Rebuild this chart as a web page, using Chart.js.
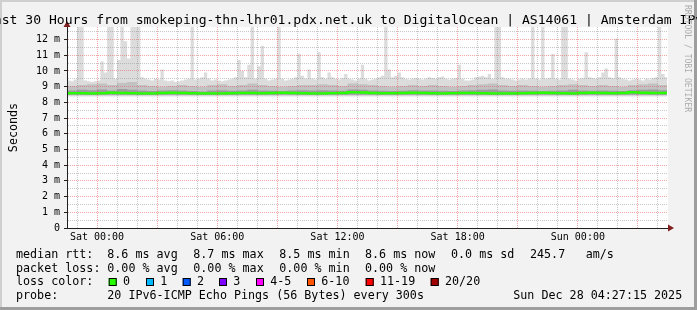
<!DOCTYPE html>
<html>
<head>
<meta charset="utf-8">
<script src="https://cdn.jsdelivr.net/npm/chart.js@4.4.1/dist/chart.umd.min.js"></script>
<style>
  html, body { margin: 0; padding: 0; background: #f2f2f2; }
  canvas { display: block; }
</style>
</head>
<body>
<canvas id="smoke" width="697" height="310"></canvas>
<script>
// time axis in hours, relative to Sat 00:00
const startHour = -1.5;   // Fri 22:30
const endHour = 28.5;     // Sun 04:30
const dataEnd = 28.45;    // Sun 04:27
const xTickHours = [0, 6, 12, 18, 24];
const xTickLabels = ['Sat 00:00', 'Sat 06:00', 'Sat 12:00', 'Sat 18:00', 'Sun 00:00'];

// outer smoke (highest ping), 10 minute steps, ms
const smokeTop = [
  9.4, 9.35, 9.45, 12.8, 12.8, 9.4, 9.35, 9.3, 9.35, 9.4, 10.6, 9.9,
  12.8, 12.8, 9.5, 10.7, 12.8, 11.9, 10.8, 12.8, 12.8, 12.8, 9.6, 9.5,
  9.45, 9.4, 9.5, 9.45, 10.1, 9.4, 9.35, 9.4, 9.3, 9.35, 9.4, 9.45,
  9.5, 12.8, 9.45, 9.5, 9.6, 9.9, 9.5, 9.4, 9.45, 9.4, 9.35, 9.4,
  9.45, 9.5, 9.6, 10.7, 10.0, 9.6, 10.4, 12.8, 9.5, 10.3, 11.6, 9.5,
  9.4, 9.45, 9.5, 12.8, 9.5, 9.4, 9.45, 9.5, 9.6, 11.1, 9.7, 9.5,
  10.1, 9.5, 9.45, 11.2, 9.6, 9.5, 9.9, 9.6, 9.5, 9.45, 9.55, 9.8,
  9.5, 9.45, 9.4, 9.5, 10.4, 9.5, 9.4, 9.45, 9.5, 9.6, 9.7, 12.8,
  10.1, 9.6, 9.7, 9.9, 9.6, 9.5, 9.45, 9.5, 9.55, 9.5, 9.45, 9.5,
  9.6, 9.55, 9.5, 9.6, 9.65, 9.5, 9.45, 9.5, 9.55, 10.4, 9.5, 9.4,
  9.4, 9.45, 9.6, 9.65, 9.7, 9.6, 9.8, 9.5, 12.8, 12.8, 9.6, 9.5,
  9.5, 9.45, 9.4, 9.45, 9.5, 9.45, 9.5, 12.8, 9.5, 9.45, 12.8, 9.5,
  9.55, 11.1, 9.5, 9.45, 12.8, 12.8, 9.5, 9.45, 9.4, 9.5, 9.55, 11.2,
  9.6, 9.55, 9.5, 9.6, 9.9, 10.15, 9.6, 9.55, 12.05, 9.6, 9.5, 9.45,
  9.4, 9.45, 9.5, 9.45, 9.4, 9.5, 9.45, 9.55, 9.6, 12.8, 9.8, 9.6
];

// inner smoke bands and median, 30 minute steps, ms
const smokeMid = [
  9.05, 9.1, 9.15, 9.2, 9.1, 9.25, 9.3, 9.1, 9.05, 9.0, 9.05, 9.1,
  9.05, 9.0, 9.1, 9.15, 9.05, 9.1, 9.2, 9.1, 9.05, 9.0, 9.05, 9.1,
  9.1, 9.15, 9.1, 9.05, 9.2, 9.15, 9.1, 9.05, 9.0, 9.05, 9.1, 9.05,
  9.1, 9.05, 9.0, 9.05, 9.1, 9.15, 9.2, 9.1, 9.05, 9.1, 9.05, 9.0,
  9.05, 9.1, 9.15, 9.1, 9.05, 9.1, 9.05, 9.0, 9.1, 9.15, 9.2, 9.1
];
const smokeCore = [
  8.75, 8.8, 8.78, 8.82, 8.75, 8.85, 8.8, 8.75, 8.72, 8.75, 8.78, 8.75,
  8.72, 8.7, 8.75, 8.78, 8.74, 8.76, 8.8, 8.75, 8.74, 8.72, 8.75, 8.78,
  8.76, 8.78, 8.75, 8.74, 8.82, 8.8, 8.76, 8.74, 8.72, 8.74, 8.78, 8.75,
  8.76, 8.74, 8.72, 8.75, 8.78, 8.8, 8.82, 8.76, 8.74, 8.76, 8.74, 8.72,
  8.74, 8.76, 8.8, 8.76, 8.74, 8.76, 8.74, 8.72, 8.78, 8.8, 8.82, 8.78
];
const medianRtt = [
  8.58, 8.58, 8.57, 8.58, 8.62, 8.6, 8.58, 8.56, 8.57, 8.6, 8.62, 8.6,
  8.58, 8.57, 8.56, 8.57, 8.58, 8.6, 8.59, 8.58, 8.6, 8.62, 8.6, 8.58,
  8.57, 8.56, 8.58, 8.6, 8.64, 8.63, 8.6, 8.58, 8.58, 8.6, 8.62, 8.6,
  8.58, 8.57, 8.58, 8.6, 8.6, 8.58, 8.57, 8.56, 8.57, 8.58, 8.6, 8.62,
  8.6, 8.58, 8.57, 8.6, 8.62, 8.6, 8.58, 8.6, 8.64, 8.62, 8.6, 8.6
];

const lossLabels = ['0', '1', '2', '3', '4-5', '6-10', '11-19', '20/20'];
const lossColors = ['#26ff00', '#00b8ff', '#0059ff', '#7e00ff', '#ff00ff', '#ff5500', '#ff0000', '#a10000'];

const titleText = 'Last 30 Hours from smokeping-thn-lhr01.pdx.net.uk to DigitalOcean | AS14061 | Amsterdam IPv6';
const rttStats = ['8.6 ms avg', '8.7 ms max', '8.5 ms min', '8.6 ms now', '0.0 ms sd', '245.7', 'am/s'];
const lossStats = ['0.00 % avg', '0.00 % max', '0.00 % min', '0.00 % now'];
const probeText = '20 IPv6-ICMP Echo Pings (56 Bytes) every 300s';
const stampText = 'Sun Dec 28 04:27:15 2025';

const MONO = '"DejaVu Sans Mono", "Liberation Mono", monospace';
const GRID_MAJOR = 'rgba(230,80,80,0.5)';
const GRID_MINOR = 'rgba(143,143,143,0.5)';

// stepped series: each value holds until the next one
function steps(values, stepHours) {
    const pts = values.map((v, i) => ({ x: startHour + i * stepHours, y: v }));
    pts.push({ x: dataEnd, y: values[values.length - 1] });
    return pts;
}

const framePlugin = {
    id: 'frame',
    beforeDraw(chart) {
        const c = chart.ctx;
        const a = chart.chartArea;
        c.save();
        c.fillStyle = '#f2f2f2';
        c.fillRect(0, 0, 697, 310);
        c.fillStyle = '#cfcfcf';
        c.fillRect(0, 0, 697, 2);
        c.fillRect(0, 0, 2, 310);
        c.fillStyle = '#9e9e9e';
        c.fillRect(0, 307, 697, 3);
        c.fillRect(694, 0, 3, 310);
        c.fillStyle = '#ffffff';
        c.fillRect(a.left, a.top, a.right - a.left, a.bottom - a.top);
        c.restore();
    },
    afterDraw(chart) {
        const c = chart.ctx;
        const a = chart.chartArea;
        c.save();

        // arrows at the axis ends
        c.fillStyle = '#801f1f';
        c.beginPath();
        c.moveTo(a.left - 3.5, a.top);
        c.lineTo(a.left + 3.5, a.top);
        c.lineTo(a.left, a.top - 6);
        c.closePath();
        c.fill();
        c.beginPath();
        c.moveTo(a.right, a.bottom - 3.5);
        c.lineTo(a.right, a.bottom + 3.5);
        c.lineTo(a.right + 6, a.bottom);
        c.closePath();
        c.fill();

        // title
        c.fillStyle = '#000';
        c.font = '13.1px ' + MONO;
        c.textAlign = 'center';
        c.textBaseline = 'alphabetic';
        c.fillText(titleText, 348.5, 23.5);

        // y axis title
        c.font = '11.7px ' + MONO;
        c.save();
        c.translate(14, (a.top + a.bottom) / 2);
        c.rotate(-Math.PI / 2);
        c.textBaseline = 'middle';
        c.fillText('Seconds', 0, 0);
        c.restore();

        // watermark
        c.save();
        c.fillStyle = '#acacac';
        c.font = '8.1px ' + MONO;
        c.translate(687, 58.5);
        c.rotate(Math.PI / 2);
        c.textBaseline = 'middle';
        c.fillText('RRDTOOL / TOBI OETIKER', 0, 0);
        c.restore();

        // legend
        c.textAlign = 'left';
        c.font = '11.7px ' + MONO;
        const rows = [258, 271.5, 285, 298.5];
        c.fillText('median rtt:', 16, rows[0]);
        const rttX = [107.3, 193.3, 279.3, 365, 451, 530, 585.7];
        rttStats.forEach((s, i) => c.fillText(s, rttX[i], rows[0]));
        c.fillText('packet loss:', 16, rows[1]);
        lossStats.forEach((s, i) => c.fillText(s, rttX[i], rows[1]));
        c.fillText('loss color:', 16, rows[2]);
        const boxX = [108.7, 146, 182.7, 219, 256, 307, 365.7, 430.7];
        lossLabels.forEach((s, i) => {
            c.fillStyle = lossColors[i];
            c.fillRect(boxX[i], 278, 8, 8);
            c.strokeStyle = '#000';
            c.lineWidth = 1;
            c.strokeRect(boxX[i] + 0.5, 278.5, 7, 7);
            c.fillStyle = '#000';
            c.fillText(s, boxX[i] + 14.3, rows[2]);
        });
        c.fillText('probe:', 16, rows[3]);
        c.fillText(probeText, 107.3, rows[3]);
        c.fillText(stampText, 513.3, rows[3]);
        c.restore();
    }
};

const ctx = document.getElementById('smoke').getContext('2d');
const noBorder = 'rgba(0,0,0,0)';
new Chart(ctx, {
    type: 'line',
    data: {
        datasets: [
            {
                label: 'median rtt',
                data: steps(medianRtt, 0.5),
                borderColor: lossColors[0],
                borderWidth: 2.5,
                stepped: true,
                pointRadius: 0,
                fill: false,
                order: 0
            },
            {
                label: 'smoke core',
                data: steps(smokeCore, 0.5),
                borderColor: noBorder,
                backgroundColor: '#9c9c9c',
                stepped: true,
                pointRadius: 0,
                fill: { value: 8.5 },
                order: 1
            },
            {
                label: 'smoke mid',
                data: steps(smokeMid, 0.5),
                borderColor: noBorder,
                backgroundColor: '#c2c2c2',
                stepped: true,
                pointRadius: 0,
                fill: { value: 8.45 },
                order: 2
            },
            {
                label: 'smoke',
                data: steps(smokeTop, 1 / 6),
                borderColor: noBorder,
                backgroundColor: '#dcdcdc',
                stepped: true,
                pointRadius: 0,
                fill: { value: 8.38 },
                order: 3
            }
        ]
    },
    options: {
        responsive: false,
        animation: false,
        events: [],
        layout: { padding: { left: 0, top: 27, right: 29, bottom: 62 } },
        plugins: { legend: { display: false }, tooltip: { enabled: false } },
        scales: {
            x: {
                type: 'linear',
                min: startHour,
                max: endHour,
                afterBuildTicks: (s) => {
                    const t = [];
                    for (let h = Math.ceil(startHour); h <= Math.floor(endHour); h++) t.push({ value: h });
                    s.ticks = t;
                },
                afterFit: (s) => { s.height = 20; },
                ticks: {
                    autoSkip: false,
                    maxRotation: 0,
                    padding: 3,
                    color: '#000',
                    font: { family: MONO, size: 10 },
                    callback: (v) => {
                        const i = xTickHours.indexOf(v);
                        return i >= 0 ? xTickLabels[i] : '';
                    }
                },
                grid: {
                    z: 1,
                    drawTicks: false,
                    lineWidth: 1,
                    color: (c) => (c.tick && c.tick.value % 3 === 0) ? GRID_MAJOR : GRID_MINOR
                },
                border: { color: '#1f1f1f', width: 1, z: 2, dash: [1, 1] }
            },
            y: {
                min: 0,
                max: 12.8,
                afterBuildTicks: (s) => {
                    const t = [];
                    for (let k = 0; k <= 25; k++) t.push({ value: k / 2 });
                    s.ticks = t;
                },
                afterFit: (s) => { s.width = 67; },
                ticks: {
                    autoSkip: false,
                    padding: 4,
                    color: '#000',
                    font: { family: MONO, size: 10 },
                    callback: (v) => Number.isInteger(v) ? (v === 0 ? '0' : v + ' m') : ''
                },
                grid: {
                    z: 1,
                    tickLength: 3,
                    lineWidth: 1,
                    color: (c) => {
                        if (!c.tick || c.tick.value === 0) return 'rgba(0,0,0,0)';
                        return Number.isInteger(c.tick.value) ? GRID_MAJOR : GRID_MINOR;
                    },
                    tickColor: (c) => (c.tick && Number.isInteger(c.tick.value)) ? '#1f1f1f' : 'rgba(0,0,0,0)'
                },
                border: { color: '#1f1f1f', width: 1, z: 2, dash: [1, 1] }
            }
        }
    },
    plugins: [framePlugin]
});
</script>
</body>
</html>
